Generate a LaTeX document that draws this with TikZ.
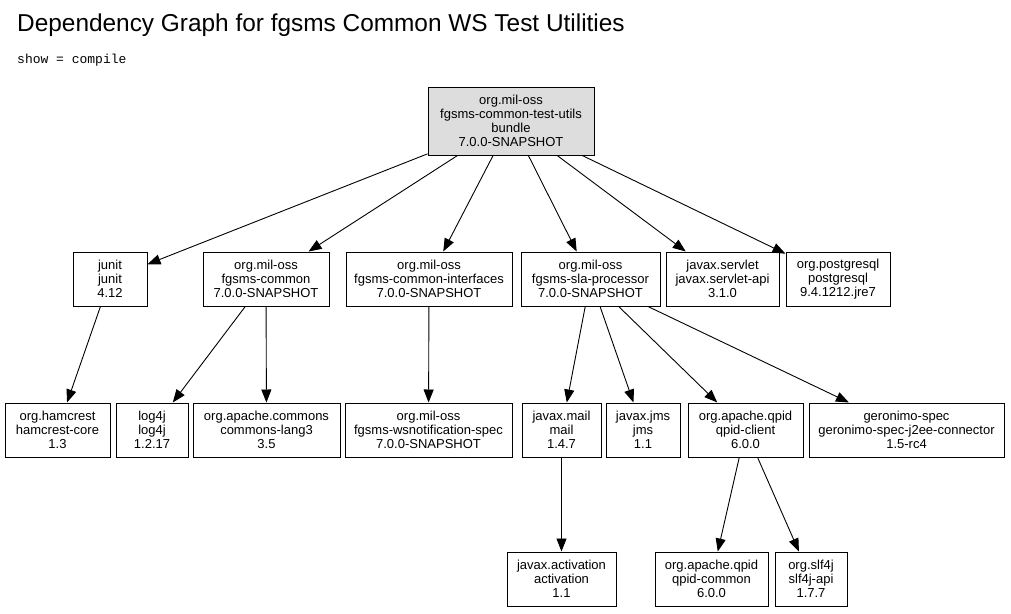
\documentclass[tikz,border=0pt]{standalone}
\usepackage{fontspec}
\setmainfont{Liberation Sans}
\setmonofont{Liberation Mono}
\usetikzlibrary{arrows.meta}
\definecolor{rootgray}{RGB}{221,221,221}

\begin{document}
\begin{tikzpicture}[x=1pt,y=-1pt,
    pkg/.style={draw=black,line width=1pt,align=center,inner sep=0pt,minimum height=54pt,
      font=\fontsize{13}{14}\selectfont},
    dep/.style={-{Triangle[length=13pt,width=10pt]},line width=0.9pt}]
            \useasboundingbox (0,0) rectangle (1011,613);
            \node[anchor=base west,inner sep=0pt,font=\fontsize{24.4}{28}\selectfont] (title) at (17,31) {Dependency Graph for fgsms Common WS Test Utilities};
            \node[anchor=base west,inner sep=0pt,font=\ttfamily\fontsize{13}{14}\selectfont] (show) at (17,63) {show = compile};
            % top
            \node[pkg,fill=rootgray,minimum width=166pt,minimum height=68pt] (utils) at (511,121) {org.mil-oss\\fgsms-common-test-utils\\bundle\\7.0.0-SNAPSHOT};
            % second row
            \node[pkg,minimum width=74pt] (junit) at (110,279) {junit\\junit\\4.12};
            \node[pkg,minimum width=126pt] (common) at (266,279) {org.mil-oss\\fgsms-common\\7.0.0-SNAPSHOT};
            \node[pkg,minimum width=166pt] (interfaces) at (429,279) {org.mil-oss\\fgsms-common-interfaces\\7.0.0-SNAPSHOT};
            \node[pkg,minimum width=139pt] (sla) at (590.5,279) {org.mil-oss\\fgsms-sla-processor\\7.0.0-SNAPSHOT};
            \node[pkg,minimum width=113pt] (servlet) at (722.5,279) {javax.servlet\\javax.servlet-api\\3.1.0};
            \node[pkg,minimum width=104pt] (postgresql) at (838,279) {org.postgresql\\postgresql\\9.4.1212.jre7};
            % third row
            \node[pkg,minimum width=105pt] (hamcrest) at (57.5,430) {org.hamcrest\\hamcrest-core\\1.3};
            \node[pkg,minimum width=72pt] (log4j) at (152,430) {log4j\\log4j\\1.2.17};
            \node[pkg,minimum width=147pt] (lang3) at (266.5,430) {org.apache.commons\\commons-lang3\\3.5};
            \node[pkg,minimum width=167pt] (wsnotif) at (428.5,430) {org.mil-oss\\fgsms-wsnotification-spec\\7.0.0-SNAPSHOT};
            \node[pkg,minimum width=79pt] (mail) at (561.5,430) {javax.mail\\mail\\1.4.7};
            \node[pkg,minimum width=74pt] (jms) at (643,430) {javax.jms\\jms\\1.1};
            \node[pkg,minimum width=115pt] (qpidclient) at (745.5,430) {org.apache.qpid\\qpid-client\\6.0.0};
            \node[pkg,minimum width=195pt] (geronimo) at (906.5,430) {geronimo-spec\\geronimo-spec-j2ee-connector\\1.5-rc4};
            % bottom row
            \node[pkg,minimum width=109pt] (activation) at (561.5,579) {javax.activation\\activation\\1.1};
            \node[pkg,minimum width=113pt] (qpidcommon) at (711.5,579) {org.apache.qpid\\qpid-common\\6.0.0};
            \node[pkg,minimum width=72pt] (slf4j) at (811,579) {org.slf4j\\slf4j-api\\1.7.7};
            % dependencies
            \draw[dep] (utils)--(junit);
            \draw[dep] (utils)--(common);
            \draw[dep] (utils)--(interfaces);
            \draw[dep] (utils)--(sla);
            \draw[dep] (utils)--(servlet);
            \draw[dep] (utils)--(postgresql);
            \draw[dep] (junit)--(hamcrest);
            \draw[dep] (common)--(log4j);
            \draw[dep] (common)--(lang3);
            \draw[dep] (interfaces)--(wsnotif);
            \draw[dep] (sla)--(mail);
            \draw[dep] (sla)--(jms);
            \draw[dep] (sla)--(qpidclient);
            \draw[dep] (sla)--(geronimo);
            \draw[dep] (mail)--(activation);
            \draw[dep] (qpidclient)--(qpidcommon);
            \draw[dep] (qpidclient)--(slf4j);
\end{tikzpicture}
\end{document}
